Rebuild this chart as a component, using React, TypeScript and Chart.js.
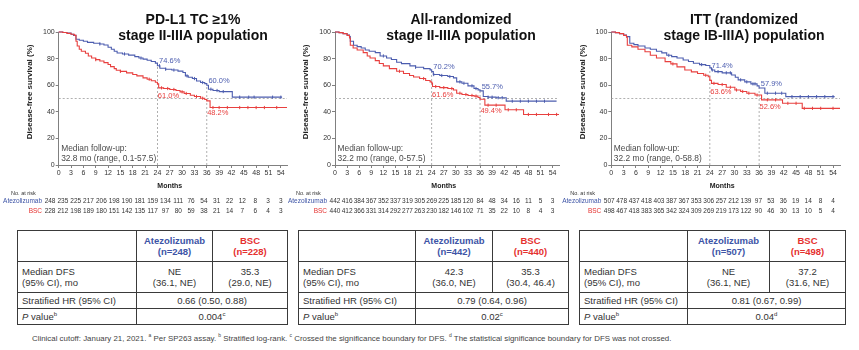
import React, { useEffect, useRef } from "react";
import { Chart, registerables } from "chart.js";
Chart.register(...registerables);

const FONT = "'Liberation Sans', Arial, Helvetica, sans-serif";
Chart.defaults.font.family = FONT;

const BLUE = "#4c5daf";
const RED = "#e8403f";
const BLUE_TEXT = "#3d54a6";
const RED_TEXT = "#e5312f";

// ---------- shared axes ----------
const monthTicks = [0, 3, 6, 9, 12, 15, 18, 21, 24, 27, 30, 33, 36, 39, 42, 45, 48, 51, 54];
const dfsTicks = [0, 20, 40, 60, 80, 100];
const landmarkMonths = [24, 36];
const armNames = ["Atezolizumab", "BSC"];

// ---------- panel 1: PD-L1 TC >=1% stage II-IIIA ----------
const p1Title = ["PD-L1 TC ≥1%", "stage II-IIIA population"];
const p1AtezoKM = [[0,100],[1,99.6],[2,99.2],[3,98.3],[3.6,97.5],[4.2,94.5],[5,93.8],[6,93],[7,92.2],[8.5,91.5],[10,91],[11,90.2],[12,88.5],[12.8,87],[13.5,85.5],[14.2,84.2],[15.5,83.5],[17,82.6],[18.5,81.5],[19.5,80.4],[20.5,79.6],[21.5,78.8],[22.5,77.8],[23.5,76.6],[24,74.6],[24.6,72.8],[26,72],[27.5,71.4],[29,70.6],[30.2,69.5],[30.8,67],[31.5,66],[32.5,65],[33.5,63.2],[34.5,62],[35.5,61.2],[36,60],[36.4,57],[37.5,56],[39,55.2],[42.2,51],[54.3,51]];
const p1BscKM = [[0,100],[1,99.6],[2,99],[3,98.3],[3.8,97.5],[4.2,93],[4.5,89.5],[5,87],[5.5,85.5],[6.5,84],[7.2,82],[8,80.5],[9,79.2],[10,78.2],[11,77],[12,75.6],[12.6,74],[13.5,72.5],[14,71.2],[15,70.4],[16.5,69.3],[18,68],[19,67],[20.5,65.5],[21.5,64.5],[22.5,63.4],[23.5,62.2],[24,61],[24.3,58],[25.5,57.5],[27,56.8],[28.5,56],[29.5,55],[30.5,53.8],[32,52.5],[33,51.5],[34.5,50.2],[35.5,49.2],[36,48.2],[36.8,43.2],[55.5,43.2]];
const p1AtezoCensor = [10, 16, 20, 24.5, 26, 28, 31.2, 33, 35, 37, 38.5, 40, 44, 46.2, 47.5, 52, 54];
const p1BscCensor = [9, 15, 22, 25, 26.5, 28, 30, 31, 33.5, 35, 37.5, 39, 41, 44, 46, 48, 50, 53];
const p1AtezoRisk = [248, 235, 225, 217, 206, 198, 190, 181, 159, 134, 111, 76, 54, 31, 22, 12, 8, 3, 3];
const p1BscRisk = [228, 212, 198, 189, 180, 151, 142, 135, 117, 97, 80, 59, 38, 21, 14, 7, 6, 4, 3];
const p1AtezoLandmark = ["74.6%", "60.0%"];
const p1BscLandmark = ["61.0%", "48.2%"];
const p1FollowUp = ["Median follow-up:", "32.8 mo (range, 0.1-57.5)"];
const p1N = ["248", "228"];
const p1Median = [["NE", "(36.1, NE)"], ["35.3", "(29.0, NE)"]];
const p1HR = "0.66 (0.50, 0.88)";
const p1P = ["0.004", "c"];

// ---------- panel 2: all-randomized stage II-IIIA ----------
const p2Title = ["All-randomized", "stage II-IIIA population"];
const p2AtezoKM = [[0,100],[1,99.5],[2,98.8],[3,97.8],[3.6,96.5],[3.8,93],[4.6,90],[5.5,89],[6.5,88],[7.5,86.5],[8.5,85.5],[10,84.5],[11.2,82],[12.8,80.5],[14,79.3],[15.3,77.2],[16.5,76.2],[18.6,74.5],[20,73.5],[22,72.5],[23.6,71.5],[24,70.2],[24.4,68],[26,67.3],[28,66.5],[29.4,65.5],[30.2,62.5],[31.5,61.5],[33,59.5],[34.5,57.5],[35.5,56.5],[36,55.7],[36.8,51.5],[38,51],[40,50.6],[42.5,48],[55,48]];
const p2BscKM = [[0,100],[1,99.5],[2,98.8],[3,97.5],[3.6,95.5],[3.8,90],[4.5,88],[5.5,86.5],[7,84.5],[8,82],[8.7,80.5],[10,78.5],[11,76.3],[12,74.5],[13.5,72.5],[15.3,70.5],[17,68.8],[18.5,67.3],[19.5,66.2],[21,65],[22.5,63.5],[23.6,62.5],[24,61.6],[24.2,59],[26,58.2],[28,57.5],[29.4,56.4],[30.2,54],[31.5,53],[33,52.3],[34.5,51.8],[35.5,50.8],[36,49.4],[37.2,45],[41.8,45],[42.2,41.5],[46.6,41.5],[46.8,38],[55.6,38]];
const p2AtezoCensor = [12, 20, 24.5, 26.5, 28.5, 31, 32, 34, 35, 38, 39, 40.5, 41.5, 44, 46, 48, 50, 52];
const p2BscCensor = [16, 22, 25, 27, 29, 31, 32.5, 34, 35, 38, 40, 43, 45, 48, 50, 53, 55];
const p2AtezoRisk = [442, 416, 384, 367, 352, 337, 319, 305, 269, 225, 185, 120, 84, 48, 34, 16, 11, 5, 3];
const p2BscRisk = [440, 412, 366, 331, 314, 292, 277, 263, 230, 182, 146, 102, 71, 35, 22, 10, 8, 4, 3];
const p2AtezoLandmark = ["70.2%", "55.7%"];
const p2BscLandmark = ["61.6%", "49.4%"];
const p2FollowUp = ["Median follow-up:", "32.2 mo (range, 0-57.5)"];
const p2N = ["442", "440"];
const p2Median = [["42.3", "(36.0, NE)"], ["35.3", "(30.4, 46.4)"]];
const p2HR = "0.79 (0.64, 0.96)";
const p2P = ["0.02", "c"];

// ---------- panel 3: ITT stage IB-IIIA ----------
const p3Title = ["ITT (randomized", "stage IB-IIIA) population"];
const p3AtezoKM = [[0,100],[1,99.5],[2,98.8],[3,97.8],[3.7,96.5],[4.5,91.5],[5.5,90.5],[6.5,89.5],[8.2,88],[9.5,87],[11,85.5],[12.3,84.3],[13.5,82.5],[14.7,81.5],[16,80.5],[17.5,79],[18.8,77.8],[20,76.5],[21.5,75.5],[23,74.8],[24,73],[24.4,71.4],[25.2,70.2],[27,69.3],[29.3,67.7],[30.2,66],[30.9,64],[32.5,62.5],[34,61],[35.5,59.5],[36,57.9],[37.4,54],[42.2,54],[42.5,51.4],[54.4,51.4]];
const p3BscKM = [[0,100],[1,99.5],[2,98.8],[3,97.5],[3.7,96],[3.9,90],[5,88.8],[6.5,87],[8.2,85.2],[9.5,82.5],[11,80.5],[13.1,77.7],[14.5,76],[16,73.8],[17.9,71.4],[19.5,70],[21,68.8],[22.5,67.5],[23.6,66.4],[24,63.6],[24.4,61.4],[26,60.5],[28,58.5],[30.1,56.4],[31.5,55.3],[33,54],[35,52.6],[36.6,49],[41.4,49],[41.7,46.4],[46.3,46.4],[46.5,42.6],[55.7,42.6]];
const p3AtezoCensor = [14, 22, 24.6, 26, 28, 29, 31.5, 33, 34.5, 35, 38, 40, 41.5, 44, 46, 48, 50, 52, 54];
const p3BscCensor = [15, 23, 25, 27, 29, 30.5, 32, 33.5, 35.5, 38, 40, 43, 45, 47, 49, 51, 54];
const p3AtezoRisk = [507, 478, 437, 418, 403, 387, 367, 353, 306, 257, 212, 139, 97, 53, 36, 19, 14, 8, 4];
const p3BscRisk = [498, 467, 418, 383, 365, 342, 324, 309, 269, 219, 173, 122, 90, 46, 30, 13, 10, 5, 4];
const p3AtezoLandmark = ["71.4%", "57.9%"];
const p3BscLandmark = ["63.6%", "52.6%"];
const p3FollowUp = ["Median follow-up:", "32.2 mo (range, 0-58.8)"];
const p3N = ["507", "498"];
const p3Median = [["NE", "(36.1, NE)"], ["37.2", "(31.6, NE)"]];
const p3HR = "0.81 (0.67, 0.99)";
const p3P = ["0.04", "d"];

// ---------- layout (style only) ----------
const p1Layout = { canvasLeft: 0, canvasWidth: 292, plotLeft: 58.7, plotRight: 287.3, xMax: 55.5, titleCenter: 193, riskStart: -2.1 };
const p2Layout = { canvasLeft: 283, canvasWidth: 282, plotLeft: 335, plotRight: 559, xMax: 55.6, titleCenter: 461, riskStart: 0 };
const p3Layout = { canvasLeft: 555, canvasWidth: 304, plotLeft: 611.3, plotRight: 840, xMax: 55.7, titleCenter: 744, riskStart: -0.5 };
const t1Layout = { left: 17, cols: [119, 76, 75] };
const t2Layout = { left: 298, cols: [117, 77, 76] };
const t3Layout = { left: 579, cols: [108, 82, 76] };

const CANVAS_H = 220;
const PLOT_TOP = 32;
const PLOT_BOTTOM = 165;
const Y_AXIS_W = 30;
const X_AXIS_H = 14;

function stepAt(km: number[][], m: number) {
  let v = km[0][1];
  for (const [t, s] of km) {
    if (t <= m) v = s;
    else break;
  }
  return v;
}

type PanelData = {
  id: number;
  title: string[];
  atezoKM: number[][];
  bscKM: number[][];
  atezoCensor: number[];
  bscCensor: number[];
  atezoRisk: number[];
  bscRisk: number[];
  atezoLandmark: string[];
  bscLandmark: string[];
  followUp: string[];
  layout: typeof p1Layout;
};

const panels: PanelData[] = [
  { id: 1, title: p1Title, atezoKM: p1AtezoKM, bscKM: p1BscKM, atezoCensor: p1AtezoCensor, bscCensor: p1BscCensor, atezoRisk: p1AtezoRisk, bscRisk: p1BscRisk, atezoLandmark: p1AtezoLandmark, bscLandmark: p1BscLandmark, followUp: p1FollowUp, layout: p1Layout },
  { id: 2, title: p2Title, atezoKM: p2AtezoKM, bscKM: p2BscKM, atezoCensor: p2AtezoCensor, bscCensor: p2BscCensor, atezoRisk: p2AtezoRisk, bscRisk: p2BscRisk, atezoLandmark: p2AtezoLandmark, bscLandmark: p2BscLandmark, followUp: p2FollowUp, layout: p2Layout },
  { id: 3, title: p3Title, atezoKM: p3AtezoKM, bscKM: p3BscKM, atezoCensor: p3AtezoCensor, bscCensor: p3BscCensor, atezoRisk: p3AtezoRisk, bscRisk: p3BscRisk, atezoLandmark: p3AtezoLandmark, bscLandmark: p3BscLandmark, followUp: p3FollowUp, layout: p3Layout },
];

const tables = [
  { n: p1N, median: p1Median, hr: p1HR, p: p1P, layout: t1Layout },
  { n: p2N, median: p2Median, hr: p2HR, p: p2P, layout: t2Layout },
  { n: p3N, median: p3Median, hr: p3HR, p: p3P, layout: t3Layout },
];

function makeOverlay(p: PanelData) {
  return {
    id: "kmOverlay" + p.id,
    beforeDatasetsDraw(chart: any) {
      const { ctx, chartArea, scales } = chart;
      const x = scales.x, y = scales.y;
      ctx.save();
      ctx.strokeStyle = "#9c9c9c";
      ctx.lineWidth = 0.8;
      ctx.setLineDash([2, 2]);
      ctx.beginPath();
      ctx.moveTo(chartArea.left, y.getPixelForValue(50));
      ctx.lineTo(chartArea.right, y.getPixelForValue(50));
      ctx.stroke();
      landmarkMonths.forEach((m, i) => {
        const top = parseFloat(p.atezoLandmark[i]);
        const px = x.getPixelForValue(m);
        ctx.beginPath();
        ctx.moveTo(px, y.getPixelForValue(0));
        ctx.lineTo(px, y.getPixelForValue(top));
        ctx.stroke();
      });
      ctx.restore();
    },
    afterDraw(chart: any) {
      const { ctx, chartArea, scales } = chart;
      const x = scales.x, y = scales.y;
      ctx.save();
      // landmark labels
      ctx.font = `7.5px ${FONT}`;
      ctx.textBaseline = "middle";
      ctx.textAlign = "left";
      landmarkMonths.forEach((m, i) => {
        const bv = parseFloat(p.atezoLandmark[i]);
        const rv = parseFloat(p.bscLandmark[i]);
        ctx.fillStyle = BLUE;
        ctx.fillText(p.atezoLandmark[i], x.getPixelForValue(m + 0.4), y.getPixelForValue(bv + 3.3));
        ctx.fillStyle = RED;
        ctx.fillText(p.bscLandmark[i], x.getPixelForValue(m + 0.1), y.getPixelForValue(rv - 9));
      });
      // median follow-up
      ctx.font = `8.4px ${FONT}`;
      ctx.fillStyle = "#4a4a4a";
      ctx.fillText(p.followUp[0], chartArea.left + 2.5, y.getPixelForValue(12));
      ctx.fillText(p.followUp[1], chartArea.left + 2.5, y.getPixelForValue(4.5));
      // y-axis title
      ctx.save();
      ctx.translate(chartArea.left - 29, y.getPixelForValue(55));
      ctx.rotate(-Math.PI / 2);
      ctx.font = `bold 8px ${FONT}`;
      ctx.fillStyle = "#222";
      ctx.textAlign = "center";
      ctx.fillText("Disease-free survival (%)", 0, 0);
      ctx.restore();
      // x-axis title
      ctx.font = `bold 7px ${FONT}`;
      ctx.fillStyle = "#222";
      ctx.textAlign = "center";
      ctx.fillText("Months", x.getPixelForValue(27), chartArea.bottom + 21.5);
      // at-risk table
      const rs = p.layout.riskStart;
      const step = (54 - rs) / (p.atezoRisk.length - 1);
      const labelRight = x.getPixelForValue(rs) - 8;
      ctx.font = `5.5px ${FONT}`;
      ctx.fillStyle = "#333";
      ctx.textAlign = "left";
      ctx.fillText("No. at risk", labelRight - 31, chartArea.bottom + 28);
      const rowsY = [chartArea.bottom + 36.5, chartArea.bottom + 46.5];
      const rows = [p.atezoRisk, p.bscRisk];
      const cols = [BLUE_TEXT, RED_TEXT];
      rows.forEach((row, r) => {
        ctx.font = `6.5px ${FONT}`;
        ctx.textAlign = "right";
        ctx.fillStyle = cols[r];
        ctx.fillText(armNames[r], labelRight, rowsY[r]);
        ctx.textAlign = "center";
        ctx.fillStyle = "#333";
        row.forEach((v, i) => {
          ctx.fillText(String(v), x.getPixelForValue(rs + i * step), rowsY[r]);
        });
      });
      ctx.restore();
    },
  };
}

function KMPanel({ p }: { p: PanelData }) {
  const ref = useRef<HTMLCanvasElement | null>(null);
  useEffect(() => {
    const L = p.layout;
    const kmDs = (km: number[][], color: string) => ({
      data: km.map(([m, v]) => ({ x: m, y: v })),
      borderColor: color,
      borderWidth: 1.1,
      pointRadius: 0,
      stepped: "before" as const,
      fill: false,
      clip: false,
    });
    const censorDs = (months: number[], km: number[][], color: string) => ({
      data: months.map((m) => ({ x: m, y: stepAt(km, m) })),
      showLine: false,
      borderColor: color,
      backgroundColor: color,
      pointStyle: "line" as const,
      rotation: 90,
      pointRadius: 1.6,
      pointBorderWidth: 1,
      clip: false,
    });
    const chart = new Chart(ref.current as HTMLCanvasElement, {
      type: "line",
      data: {
        datasets: [
          kmDs(p.bscKM, RED),
          censorDs(p.bscCensor, p.bscKM, RED),
          kmDs(p.atezoKM, BLUE),
          censorDs(p.atezoCensor, p.atezoKM, BLUE),
        ] as any,
      },
      options: {
        animation: false,
        responsive: false,
        events: [],
        layout: {
          padding: {
            left: L.plotLeft - L.canvasLeft - Y_AXIS_W,
            right: L.canvasLeft + L.canvasWidth - L.plotRight,
            top: PLOT_TOP,
            bottom: CANVAS_H - PLOT_BOTTOM - X_AXIS_H,
          },
        },
        plugins: { legend: { display: false }, tooltip: { enabled: false }, title: { display: false } },
        scales: {
          x: {
            type: "linear",
            min: 0,
            max: L.xMax,
            afterBuildTicks: (s: any) => { s.ticks = monthTicks.map((v) => ({ value: v })); },
            afterFit: (s: any) => { s.height = X_AXIS_H; },
            ticks: { font: { size: 7 }, color: "#333", padding: 1, maxRotation: 0, autoSkip: false },
            grid: { display: true, drawOnChartArea: false, drawTicks: true, tickLength: 3, color: "#808080" },
            border: { display: true, color: "#808080", width: 1 },
          },
          y: {
            type: "linear",
            min: 0,
            max: 100,
            afterBuildTicks: (s: any) => { s.ticks = dfsTicks.map((v) => ({ value: v })); },
            afterFit: (s: any) => { s.width = Y_AXIS_W; },
            ticks: { font: { size: 7 }, color: "#333", padding: 1 },
            grid: { display: true, drawOnChartArea: false, drawTicks: true, tickLength: 3, color: "#808080" },
            border: { display: true, color: "#808080", width: 1 },
          },
        },
      } as any,
      plugins: [makeOverlay(p)],
    });
    return () => chart.destroy();
  }, [p]);
  const L = p.layout;
  return (
    <>
      <canvas
        ref={ref}
        width={L.canvasWidth}
        height={CANVAS_H}
        style={{ position: "absolute", left: L.canvasLeft, top: 0, width: L.canvasWidth, height: CANVAS_H }}
      />
      <div
        style={{
          position: "absolute",
          left: L.titleCenter - 150,
          top: 11,
          width: 300,
          textAlign: "center",
          fontFamily: FONT,
          fontWeight: "bold",
          fontSize: 14,
          lineHeight: "16px",
          color: "#111",
          pointerEvents: "none",
        }}
      >
        {p.title.map((t, i) => (
          <div key={i}>{t}</div>
        ))}
      </div>
    </>
  );
}

const cellBase: React.CSSProperties = {
  border: "1.5px solid #3a3a3a",
  fontSize: 9.5,
  lineHeight: "11.5px",
  color: "#333",
  padding: "0 4px",
  fontFamily: FONT,
  verticalAlign: "middle",
};

function DfsTable({ t }: { t: (typeof tables)[number] }) {
  const w = t.layout.cols.reduce((a, b) => a + b, 0);
  const sup: React.CSSProperties = { fontSize: 6, verticalAlign: "super", lineHeight: 0 };
  return (
    <table
      style={{
        position: "absolute",
        left: t.layout.left,
        top: 230,
        width: w,
        borderCollapse: "collapse",
        tableLayout: "fixed",
      }}
    >
      <colgroup>
        {t.layout.cols.map((c, i) => (
          <col key={i} style={{ width: c }} />
        ))}
      </colgroup>
      <tbody>
        <tr style={{ height: 31 }}>
          <td style={cellBase}></td>
          <td style={{ ...cellBase, textAlign: "center", fontWeight: "bold", color: BLUE_TEXT }}>
            {armNames[0]}
            <br />(n={t.n[0]})
          </td>
          <td style={{ ...cellBase, textAlign: "center", fontWeight: "bold", color: RED_TEXT }}>
            {armNames[1]}
            <br />(n={t.n[1]})
          </td>
        </tr>
        <tr style={{ height: 31 }}>
          <td style={cellBase}>
            Median DFS
            <br />
            (95% CI), mo
          </td>
          <td style={{ ...cellBase, textAlign: "center" }}>
            {t.median[0][0]}
            <br />
            {t.median[0][1]}
          </td>
          <td style={{ ...cellBase, textAlign: "center" }}>
            {t.median[1][0]}
            <br />
            {t.median[1][1]}
          </td>
        </tr>
        <tr style={{ height: 16 }}>
          <td style={cellBase}>Stratified HR (95% CI)</td>
          <td colSpan={2} style={{ ...cellBase, textAlign: "center" }}>
            {t.hr}
          </td>
        </tr>
        <tr style={{ height: 16 }}>
          <td style={cellBase}>
            <i>P</i> value<span style={sup}>b</span>
          </td>
          <td colSpan={2} style={{ ...cellBase, textAlign: "center" }}>
            {t.p[0]}
            <span style={sup}>{t.p[1]}</span>
          </td>
        </tr>
      </tbody>
    </table>
  );
}

export default function App() {
  const sup: React.CSSProperties = { fontSize: 5, verticalAlign: "super", lineHeight: 0 };
  return (
    <div
      style={{
        position: "absolute",
        left: 0,
        top: 0,
        width: 859,
        height: 350,
        background: "#fff",
        overflow: "hidden",
        fontFamily: FONT,
      }}
    >
      {panels.map((p) => (
        <KMPanel key={p.id} p={p} />
      ))}
      {tables.map((t, i) => (
        <DfsTable key={i} t={t} />
      ))}
      <div
        style={{
          position: "absolute",
          left: 32,
          top: 333,
          fontSize: 7.9,
          lineHeight: "12px",
          color: "#444",
          whiteSpace: "nowrap",
        }}
      >
        Clinical cutoff: January 21, 2021. <span style={sup}>a</span> Per SP263 assay. <span style={sup}>b</span> Stratified
        log-rank. <span style={sup}>c</span> Crossed the significance boundary for DFS. <span style={sup}>d</span> The
        statistical significance boundary for DFS was not crossed.
      </div>
    </div>
  );
}
